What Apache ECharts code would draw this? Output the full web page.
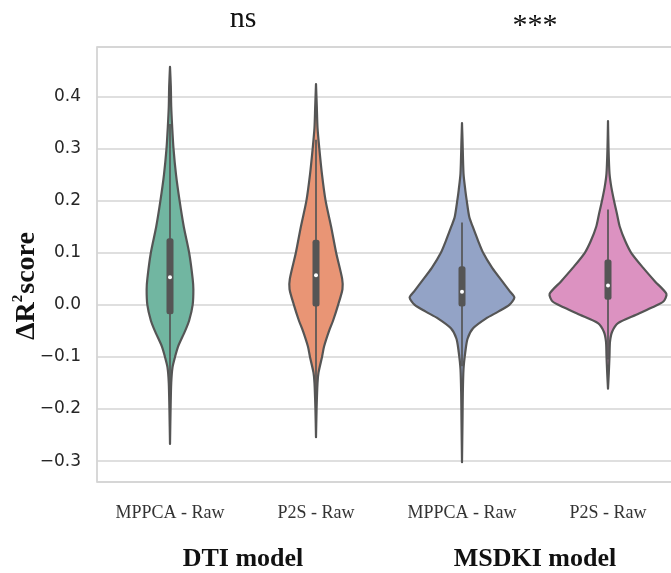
<!DOCTYPE html>
<html>
<head>
<meta charset="utf-8">
<script src="https://cdn.jsdelivr.net/npm/echarts@6/dist/echarts.min.js"></script>
<style>
  html, body { margin: 0; padding: 0; background: #ffffff; }
  #chart { width: 671px; height: 573px; }
</style>
</head>
<body>
<div id="chart"></div>
<script>
// ---- data ----
const categories = ['MPPCA - Raw', 'P2S - Raw', 'MPPCA - Raw', 'P2S - Raw'];
const groups = ['DTI model', 'MSDKI model'];
const significance = ['ns', '***'];

// violin profiles: [value, relative density] (1 = widest violin)
const dtiMppcaDensity = [
  [0.457, 0], [0.42, 0.014], [0.38, 0.021], [0.34, 0.038], [0.30, 0.060], [0.25, 0.103],
  [0.20, 0.164], [0.15, 0.236], [0.10, 0.328], [0.05, 0.388], [0.03, 0.400], [0.00, 0.388],
  [-0.03, 0.328], [-0.05, 0.259], [-0.08, 0.138], [-0.10, 0.086], [-0.12, 0.043],
  [-0.15, 0.021], [-0.20, 0.010], [-0.267, 0]
];
const dtiP2sDensity = [
  [0.424, 0], [0.38, 0.014], [0.34, 0.026], [0.30, 0.057], [0.25, 0.103], [0.20, 0.164],
  [0.15, 0.259], [0.10, 0.345], [0.05, 0.448], [0.03, 0.453], [0.00, 0.379], [-0.03, 0.293],
  [-0.05, 0.224], [-0.08, 0.138], [-0.10, 0.103], [-0.13, 0.043], [-0.15, 0.026],
  [-0.20, 0.010], [-0.254, 0]
];
const msdkiMppcaDensity = [
  [0.349, 0], [0.316, 0.009], [0.252, 0.026], [0.22, 0.057], [0.20, 0.081], [0.168, 0.126],
  [0.15, 0.184], [0.123, 0.276], [0.10, 0.362], [0.071, 0.517], [0.045, 0.690], [0.026, 0.819],
  [0.014, 0.897], [0.00, 0.810], [-0.013, 0.621], [-0.026, 0.414], [-0.045, 0.190],
  [-0.065, 0.095], [-0.09, 0.057], [-0.123, 0.026], [-0.17, 0.014], [-0.22, 0.009], [-0.302, 0]
];
const msdkiP2sDensity = [
  [0.353, 0], [0.30, 0.009], [0.252, 0.026], [0.226, 0.057], [0.20, 0.103], [0.174, 0.155],
  [0.15, 0.202], [0.123, 0.293], [0.10, 0.397], [0.071, 0.603], [0.045, 0.805], [0.021, 1.0],
  [0.0065, 0.948], [-0.006, 0.733], [-0.019, 0.483], [-0.035, 0.172], [-0.052, 0.069],
  [-0.071, 0.034], [-0.097, 0.026], [-0.13, 0.014], [-0.161, 0]
];
// inner box: [lower whisker, q1, median, q3, upper whisker]
const dtiMppcaBox   = [-0.237, -0.018, 0.053, 0.128, 0.347];
const dtiP2sBox     = [-0.195, -0.003, 0.057, 0.125, 0.317];
const msdkiMppcaBox = [-0.118, -0.003, 0.025, 0.074, 0.158];
const msdkiP2sBox   = [-0.105, 0.010, 0.037, 0.087, 0.183];

const profiles = [dtiMppcaDensity, dtiP2sDensity, msdkiMppcaDensity, msdkiP2sDensity];
const boxes = [dtiMppcaBox, dtiP2sBox, msdkiMppcaBox, msdkiP2sBox];
const fills = ['#71b6a1', '#e99575', '#93a3c6', '#dc92c1'];
const edge = '#555555';

const chart = echarts.init(document.getElementById('chart'), null, { renderer: 'canvas' });

function renderViolin(params, api) {
  const idx = api.value(0);
  const prof = profiles[idx];
  const box = boxes[idx];
  const band = api.size([1, 0])[0];
  const maxHalf = band * 0.4;
  const right = [], left = [];
  prof.forEach(function (p) {
    const c = api.coord([idx, p[0]]);
    const h = p[1] * maxHalf;
    right.push([c[0] + h, c[1]]);
    left.push([c[0] - h, c[1]]);
  });
  const pts = right.concat(left.reverse());
  const lo = api.coord([idx, box[0]]);
  const q1 = api.coord([idx, box[1]]);
  const med = api.coord([idx, box[2]]);
  const q3 = api.coord([idx, box[3]]);
  const hi = api.coord([idx, box[4]]);
  const bw = 7;
  return {
    type: 'group',
    children: [
      { type: 'polygon', shape: { points: pts, smooth: 0.25 },
        style: { fill: fills[idx], stroke: edge, lineWidth: 2.2, lineJoin: 'round' } },
      { type: 'line', shape: { x1: lo[0], y1: lo[1], x2: hi[0], y2: hi[1] },
        style: { stroke: edge, lineWidth: 1.7 } },
      { type: 'rect', shape: { x: q3[0] - bw / 2, y: q3[1], width: bw, height: q1[1] - q3[1], r: 2.5 },
        style: { fill: edge } },
      { type: 'circle', shape: { cx: med[0], cy: med[1], r: 2 },
        style: { fill: '#ffffff' } }
    ]
  };
}

const option = {
  backgroundColor: '#ffffff',
  animation: false,
  grid: { left: 97, width: 584, top: 47, bottom: 91, show: true,
          outerBoundsMode: 'none', containLabel: false,
          borderColor: '#cfcfcf', borderWidth: 1.6, backgroundColor: '#ffffff' },
  xAxis: [
    { type: 'category', data: categories, position: 'bottom',
      axisLine: { show: false }, axisTick: { show: false }, splitLine: { show: false },
      axisLabel: { fontFamily: 'Liberation Serif', fontSize: 18, color: '#333333', margin: 22 } },
    { type: 'category', data: groups, position: 'bottom', offset: 54,
      axisLine: { show: false }, axisTick: { show: false }, splitLine: { show: false },
      axisLabel: { fontFamily: 'Liberation Serif', fontWeight: 'bold', fontSize: 26, color: '#111111', margin: 10 } },
    { type: 'category', data: [significance[0], ''], position: 'top',
      axisLine: { show: false }, axisTick: { show: false }, splitLine: { show: false },
      axisLabel: { fontFamily: 'Liberation Serif', fontSize: 30, color: '#111111', margin: 13 } },
    { type: 'category', data: ['', significance[1]], position: 'top', offset: -8,
      axisLine: { show: false }, axisTick: { show: false }, splitLine: { show: false },
      axisLabel: { fontFamily: 'Liberation Serif', fontSize: 30, color: '#111111', margin: 14 } }
  ],
  yAxis: {
    type: 'value', min: -0.34, max: 0.495, splitNumber: 8,
    axisLine: { show: false }, axisTick: { show: false },
    splitLine: { show: true, lineStyle: { color: '#d4d4d4', width: 1.5 } },
    axisLabel: {
      showMinLabel: false, showMaxLabel: false,
      fontFamily: 'DejaVu Sans', fontSize: 17, color: '#262626', margin: 16,
      formatter: function (v) { return v.toFixed(1).replace('-', '\u2212'); }
    }
  },
  graphic: [
    { type: 'text', x: 26, y: 286, rotation: Math.PI / 2,
      style: {
        text: '{a|\u0394R}{s|2}{a|score}',
        align: 'center', verticalAlign: 'middle',
        rich: {
          a: { fontFamily: 'Liberation Serif', fontWeight: 'bold', fontSize: 28, fill: '#111111',
               lineHeight: 30, verticalAlign: 'bottom' },
          s: { fontFamily: 'Liberation Serif', fontWeight: 'bold', fontSize: 15, fill: '#111111',
               lineHeight: 15, verticalAlign: 'top', padding: [0, 1, 0, 0] }
        }
      } }
  ],
  series: [{
    type: 'custom',
    xAxisIndex: 0,
    renderItem: renderViolin,
    data: [[0], [1], [2], [3]],
    encode: { x: 0 },
    clip: true,
    silent: true
  }]
};
chart.setOption(option);
</script>
</body>
</html>
